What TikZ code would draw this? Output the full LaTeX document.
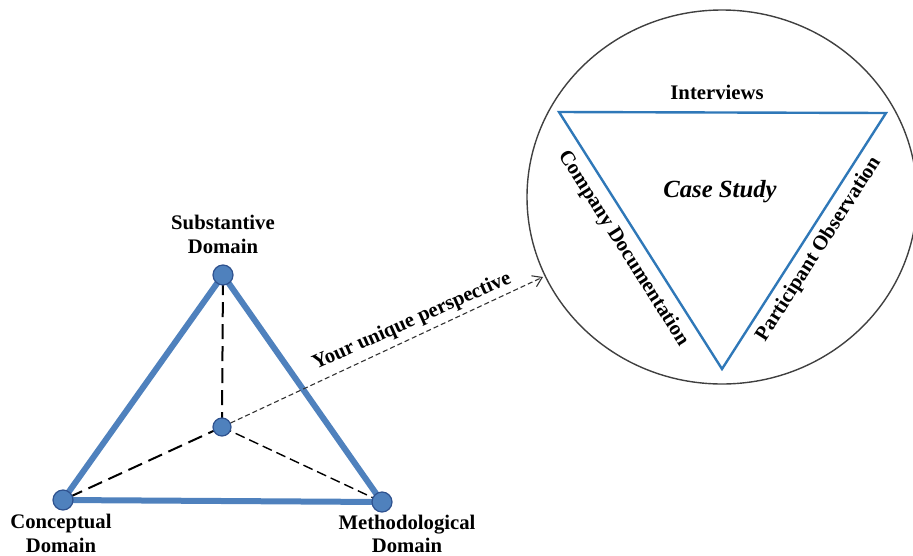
\documentclass[tikz,border=0pt]{standalone}
\usepackage{fontspec}
\setmainfont{Liberation Serif}
\usetikzlibrary{arrows.meta,shapes.geometric}
\definecolor{triblue}{HTML}{4F81BD}
\definecolor{dotedge}{HTML}{2F528F}
\definecolor{innerblue}{HTML}{2F78B8}
\definecolor{ringgray}{HTML}{404040}
\tikzset{
  lbl/.style={font=\fontsize{20.7}{24}\selectfont\bfseries, inner sep=0pt, anchor=base},
  dot/.style={circle, fill=triblue, draw=dotedge, line width=1.2pt, minimum size=20pt, inner sep=0pt},
  cdot/.style={circle, fill=triblue, draw=dotedge, line width=1.2pt, minimum size=18pt, inner sep=0pt},
  edgeline/.style={triblue, line width=6pt, line cap=round},
  longdash/.style={black, line width=2pt, dash pattern=on 15pt off 7pt},
  shortdash/.style={black, line width=1.4pt, dash pattern=on 10pt off 5pt},
  arrowdash/.style={black!80, line width=1.1pt, dash pattern=on 5pt off 3pt, -{Straight Barb[length=9pt,width=12pt]}},
  innerline/.style={innerblue, line width=2.4pt, line join=miter},
  ring/.style={draw=ringgray, line width=1.4pt}
}
\begin{document}
\begin{tikzpicture}[x=1pt,y=-1pt]
\useasboundingbox (0,0) rectangle (913,555);
% big ring
\node[ring, ellipse, minimum width=390pt, minimum height=374pt, inner sep=0pt] (ring) at (722,197) {};
% left triangle coordinates
\coordinate (S) at (223,275);
\coordinate (C) at (63,500);
\coordinate (M) at (382,502);
\coordinate (Z) at (222,427);
% dashed spokes
\draw[longdash] (Z) -- (S);
\draw[longdash] (Z) -- (C);
\draw[shortdash] (Z) -- (M);
% triangle edges
\draw[edgeline] (S) -- (C);
\draw[edgeline] (C) -- (M);
\draw[edgeline] (M) -- (S);
% dots
\node[dot] (sdot) at (S) {};
\node[dot] (cdot) at (C) {};
\node[dot] (mdot) at (M) {};
\node[cdot] (zdot) at (Z) {};
% arrow to ring
\coordinate (tip) at (543,277);
\draw[arrowdash] (zdot) -- (tip);
\node[lbl, rotate=24] (persp) at (414,326) {Your unique perspective};
% vertex labels
\node[lbl] (sub1) at (223,229) {Substantive};
\node[lbl] (sub2) at (223,253) {Domain};
\node[lbl] (con1) at (61,528) {Conceptual};
\node[lbl] (con2) at (61,552) {Domain};
\node[lbl] (met1) at (407,529) {Methodological};
\node[lbl] (met2) at (407,552) {Domain};
% inner triangle
\coordinate (A) at (559,112);
\coordinate (B) at (886,113);
\coordinate (D) at (722,369);
\draw[innerline] (A) -- (B) -- (D) -- cycle;
\node[lbl] (intv) at (717,99) {Interviews};
\node[font=\fontsize{24.7}{30}\selectfont\bfseries\itshape, inner sep=0pt, anchor=base] (cs) at (720,197) {Case Study};
\node[lbl, rotate=-57.6] (compdoc) at (619,251) {Company Documentation};
\node[lbl, rotate=57.4] (partobs) at (823,252) {Participant Observation};
\end{tikzpicture}
\end{document}
